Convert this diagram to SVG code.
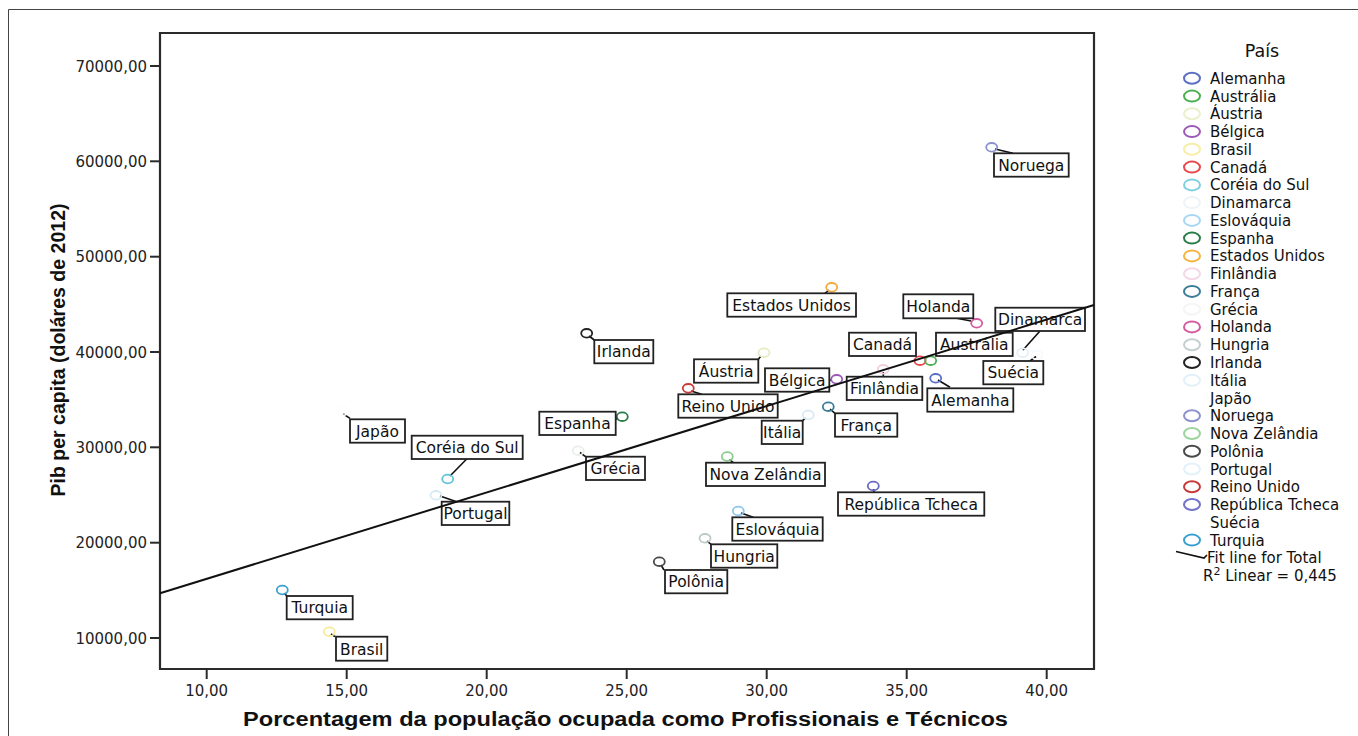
<svg xmlns="http://www.w3.org/2000/svg" width="1358" height="736" viewBox="0 0 1358 736">
<style>
.bg{fill:#fff}
.frame{stroke:#444;stroke-width:1;fill:none}
.axis{stroke:#2b2b2b;stroke-width:2.2;fill:none}
.tick{stroke:#2b2b2b;stroke-width:2}
.tl{font-family:"DejaVu Sans",sans-serif;font-size:15px;fill:#222}
.title{font-family:"Liberation Sans",Arial,sans-serif;font-weight:bold;font-size:19.5px;fill:#111}
.box{fill:#fff;stroke:#222;stroke-width:1.8}
.lbl{font-family:"DejaVu Sans",sans-serif;font-size:15.5px;fill:#111;text-anchor:middle}
.pt{fill:none;stroke-width:1.8}
.lead{stroke:#111;stroke-width:1.6;fill:none}
.fit{stroke:#111;stroke-width:2;fill:none}
.lg{font-family:"DejaVu Sans",sans-serif;font-size:15px;fill:#111}
.lc{fill:none;stroke-width:2}
</style>
<rect class="bg" x="0" y="0" width="1358" height="736"/>
<path class="frame" d="M8.5 736 V9.5 H1358"/>

<g id="axes">
<path class="axis" d="M160 33 H1094 V669 H160 Z"/>
<g class="tick">
<line x1="150" y1="66" x2="160" y2="66"/>
<line x1="150" y1="161.3" x2="160" y2="161.3"/>
<line x1="150" y1="256.7" x2="160" y2="256.7"/>
<line x1="150" y1="352" x2="160" y2="352"/>
<line x1="150" y1="447.3" x2="160" y2="447.3"/>
<line x1="150" y1="542.7" x2="160" y2="542.7"/>
<line x1="150" y1="638" x2="160" y2="638"/>
<line x1="206.7" y1="669" x2="206.7" y2="679"/>
<line x1="346.7" y1="669" x2="346.7" y2="679"/>
<line x1="486.7" y1="669" x2="486.7" y2="679"/>
<line x1="626.7" y1="669" x2="626.7" y2="679"/>
<line x1="766.7" y1="669" x2="766.7" y2="679"/>
<line x1="906.7" y1="669" x2="906.7" y2="679"/>
<line x1="1046.7" y1="669" x2="1046.7" y2="679"/>
</g>
<g class="tl" text-anchor="end">
<text x="147" y="71.5">70000,00</text>
<text x="147" y="166.8">60000,00</text>
<text x="147" y="262.2">50000,00</text>
<text x="147" y="357.5">40000,00</text>
<text x="147" y="452.8">30000,00</text>
<text x="147" y="548.2">20000,00</text>
<text x="147" y="643.5">10000,00</text>
</g>
<g class="tl" text-anchor="middle">
<text x="206.7" y="696">10,00</text>
<text x="346.7" y="696">15,00</text>
<text x="486.7" y="696">20,00</text>
<text x="626.7" y="696">25,00</text>
<text x="766.7" y="696">30,00</text>
<text x="906.7" y="696">35,00</text>
<text x="1046.7" y="696">40,00</text>
</g>
<text class="title" transform="translate(65,350) rotate(-90)" text-anchor="middle" textLength="293" lengthAdjust="spacingAndGlyphs">Pib per capita (doláres de 2012)</text>
<text class="title" x="243" y="726" textLength="765" lengthAdjust="spacingAndGlyphs">Porcentagem da população ocupada como Profissionais e Técnicos</text>
</g>

<g id="connectors">
<line class="lead" x1="995" y1="149" x2="1013" y2="153.3"/>
<line class="lead" x1="971" y1="321" x2="956.7" y2="318.3"/>
<line class="lead" x1="1040" y1="331" x2="1023" y2="350"/>
<line class="lead" x1="1030" y1="361" x2="1036" y2="356.5"/>
<line class="lead" x1="883.3" y1="372" x2="883.3" y2="376.7"/>
<line class="lead" x1="938" y1="380" x2="950" y2="387.3"/>
<line class="lead" x1="830" y1="409" x2="835" y2="413.3"/>
<line class="lead" x1="829.3" y1="380" x2="832" y2="380"/>
<line class="lead" x1="829" y1="290" x2="825" y2="293.3"/>
<line class="lead" x1="589" y1="336" x2="594.3" y2="340"/>
<line class="lead" x1="761" y1="356" x2="758.3" y2="359.3"/>
<line class="lead" x1="691" y1="391" x2="701.7" y2="394.3"/>
<line class="lead" x1="618" y1="418" x2="615.7" y2="419.3"/>
<line class="lead" x1="805.5" y1="418" x2="802.7" y2="420.7"/>
<line class="lead" x1="580" y1="452.5" x2="585.5" y2="456.7"/>
<line class="lead" x1="729.5" y1="459.5" x2="733.3" y2="462.7"/>
<line class="lead" x1="873.5" y1="489" x2="874" y2="492.3"/>
<line class="lead" x1="741" y1="513" x2="753.3" y2="517.3"/>
<line class="lead" x1="707" y1="541" x2="711" y2="544.3"/>
<line class="lead" x1="661" y1="565" x2="664" y2="570"/>
<line class="lead" x1="343.3" y1="414" x2="350" y2="418.3"/>
<line class="lead" x1="466.7" y1="459" x2="450" y2="476"/>
<line class="lead" x1="440" y1="496" x2="456.7" y2="501.7"/>
<line class="lead" x1="284.5" y1="593" x2="286.7" y2="596"/>
<line class="lead" x1="331" y1="634" x2="335" y2="636.7"/>
</g>

<g id="pt-noruega"><ellipse class="pt" cx="991.7" cy="147.3" rx="5.5" ry="4.3" stroke="#8c92cc"/><rect class="box" x="994" y="153.3" width="74.7" height="23.4"/><text class="lbl" x="1031.3" y="170.7">Noruega</text></g>
<g id="pt-holanda"><ellipse class="pt" cx="976.7" cy="323.3" rx="5.5" ry="4.3" stroke="#d45c9e"/><rect class="box" x="903.3" y="294.3" width="70" height="24"/><text class="lbl" x="938.3" y="312.3">Holanda</text></g>
<g id="pt-estados-unidos"><ellipse class="pt" cx="831.7" cy="287.3" rx="5.5" ry="4.3" stroke="#f4a93c"/><rect class="box" x="727.3" y="293.3" width="128.7" height="23.4"/><text class="lbl" x="791.6" y="310.7">Estados Unidos</text></g>
<g id="pt-irlanda"><ellipse class="pt" cx="586.7" cy="333.3" rx="5.5" ry="4.3" stroke="#222"/><rect class="box" x="594.3" y="340" width="59" height="23.3"/><text class="lbl" x="623.8" y="357.3">Irlanda</text></g>
<g id="pt-austria"><ellipse class="pt" cx="764" cy="352.7" rx="5.5" ry="4.3" stroke="#e3edc2"/><rect class="box" x="694" y="359.3" width="64.3" height="23.4"/><text class="lbl" x="726.2" y="376.7">Áustria</text></g>
<g id="pt-reino-unido"><ellipse class="pt" cx="688.3" cy="388.3" rx="5.5" ry="4.3" stroke="#c83a3a"/><rect class="box" x="678.3" y="394.3" width="99.4" height="23.4"/><text class="lbl" x="728" y="411.7">Reino Unido</text></g>
<g id="pt-espanha"><ellipse class="pt" cx="622.3" cy="416.7" rx="5.5" ry="4.3" stroke="#2a7d4a"/><rect class="box" x="539.3" y="411.7" width="76.4" height="23.3"/><text class="lbl" x="577.5" y="429">Espanha</text></g>
<g id="pt-belgica"><ellipse class="pt" cx="836.7" cy="379.3" rx="5.5" ry="4.3" stroke="#9b59b6"/><rect class="box" x="765" y="368.3" width="64.3" height="23.4"/><text class="lbl" x="797.2" y="385.7">Bélgica</text></g>
<g id="pt-italia"><ellipse class="pt" cx="808.3" cy="415" rx="5.5" ry="4.3" stroke="#d6eaf5"/><rect class="box" x="761.7" y="420.7" width="41" height="23.3"/><text class="lbl" x="782.2" y="438">Itália</text></g>
<g id="pt-franca"><ellipse class="pt" cx="828.3" cy="406.7" rx="5.5" ry="4.3" stroke="#3b7d98"/><rect class="box" x="835" y="413.3" width="62.3" height="23.4"/><text class="lbl" x="866.2" y="430.7">França</text></g>
<g id="pt-canada"><ellipse class="pt" cx="920" cy="360.7" rx="5.5" ry="4.3" stroke="#e8474c"/><rect class="box" x="849" y="332.7" width="67" height="23.3"/><text class="lbl" x="882.5" y="350">Canadá</text></g>
<g id="pt-australia"><ellipse class="pt" cx="930.7" cy="360.7" rx="5.5" ry="4.3" stroke="#4caf50"/><rect class="box" x="936" y="332.7" width="76.7" height="23.3"/><text class="lbl" x="974.3" y="350">Austrália</text></g>
<g id="pt-finlandia"><ellipse class="pt" cx="883.3" cy="369.3" rx="5.5" ry="4.3" stroke="#f2cfe0"/><rect class="box" x="846.7" y="376.7" width="75.6" height="23.3"/><text class="lbl" x="884.5" y="394">Finlândia</text></g>
<g id="pt-alemanha"><ellipse class="pt" cx="935.7" cy="378.3" rx="5.5" ry="4.3" stroke="#5b6fc4"/><rect class="box" x="927.3" y="388.3" width="86" height="23.4"/><text class="lbl" x="970.3" y="405.7">Alemanha</text></g>
<g id="pt-dinamarca"><ellipse class="pt" cx="1022.7" cy="352.7" rx="5.5" ry="4.3" stroke="#e6eff5"/><rect class="box" x="995.3" y="307.7" width="89.7" height="23.3"/><text class="lbl" x="1040.2" y="325">Dinamarca</text></g>
<g id="pt-suecia"><ellipse class="pt" cx="1037" cy="355" rx="5.5" ry="4.3" stroke="#f7f9fb"/><rect class="box" x="983.3" y="361" width="60" height="23.3"/><text class="lbl" x="1013.3" y="378.3">Suécia</text></g>
<g id="pt-grecia"><ellipse class="pt" cx="578.3" cy="450.7" rx="5.5" ry="4.3" stroke="#e8efe8"/><rect class="box" x="586" y="456.7" width="59" height="23.3"/><text class="lbl" x="615.5" y="474">Grécia</text></g>
<g id="pt-nova-zelandia"><ellipse class="pt" cx="727.3" cy="456.5" rx="5.5" ry="4.3" stroke="#8ccb8c"/><rect class="box" x="706" y="462.7" width="119" height="23.3"/><text class="lbl" x="765.5" y="480">Nova Zelândia</text></g>
<g id="pt-republica-tcheca"><ellipse class="pt" cx="873.3" cy="486" rx="5.5" ry="4.3" stroke="#6a6ac4"/><rect class="box" x="838" y="492.3" width="146.3" height="23.4"/><text class="lbl" x="911.2" y="509.7">República Tcheca</text></g>
<g id="pt-eslovaquia"><ellipse class="pt" cx="738.3" cy="511" rx="5.5" ry="4.3" stroke="#8cc7ee"/><rect class="box" x="732.3" y="517.3" width="90.4" height="23.4"/><text class="lbl" x="777.5" y="534.7">Eslováquia</text></g>
<g id="pt-hungria"><ellipse class="pt" cx="705" cy="538.3" rx="5.5" ry="4.3" stroke="#bdc8c8"/><rect class="box" x="711" y="544.3" width="66.3" height="23.4"/><text class="lbl" x="744.2" y="561.7">Hungria</text></g>
<g id="pt-polonia"><ellipse class="pt" cx="659.3" cy="561.7" rx="5.5" ry="4.3" stroke="#4a4a4a"/><rect class="box" x="665" y="570" width="62.3" height="23.3"/><text class="lbl" x="696.2" y="587.3">Polônia</text></g>
<g id="pt-japao"><ellipse class="pt" cx="343" cy="411" rx="5.5" ry="4.3" stroke="#fdfdfd"/><rect class="box" x="350" y="419.3" width="55" height="23.4"/><text class="lbl" x="377.5" y="436.7">Japão</text></g>
<g id="pt-coreia-do-sul"><ellipse class="pt" cx="447.7" cy="479" rx="5.5" ry="4.3" stroke="#62c3d8"/><rect class="box" x="411.7" y="435.7" width="111" height="23.3"/><text class="lbl" x="467.2" y="453">Coréia do Sul</text></g>
<g id="pt-portugal"><ellipse class="pt" cx="436" cy="495.3" rx="5.5" ry="4.3" stroke="#d5ebf6"/><rect class="box" x="441.7" y="501.7" width="67.6" height="23.3"/><text class="lbl" x="475.5" y="519">Portugal</text></g>
<g id="pt-turquia"><ellipse class="pt" cx="282.3" cy="590" rx="5.5" ry="4.3" stroke="#3aa0d0"/><rect class="box" x="286.7" y="596" width="66" height="23.3"/><text class="lbl" x="319.7" y="613.3">Turquia</text></g>
<g id="pt-brasil"><ellipse class="pt" cx="329.3" cy="631.7" rx="5.5" ry="4.3" stroke="#f5eb9a"/><rect class="box" x="336" y="636.7" width="51.3" height="24"/><text class="lbl" x="361.7" y="654.7">Brasil</text></g>

<g id="fit-line"><line class="fit" x1="160" y1="593.3" x2="1094" y2="305"/></g>

<g id="legend">
<text class="lg" x="1262" y="56.5" text-anchor="middle" style="font-size:17.5px">País</text>
<g class="lc">
<ellipse cx="1192" cy="78.3" rx="8" ry="5.5" stroke="#5b6fc4"/>
<ellipse cx="1192" cy="96.1" rx="8" ry="5.5" stroke="#4caf50"/>
<ellipse cx="1192" cy="113.8" rx="8" ry="5.5" stroke="#e8f0cc"/>
<ellipse cx="1192" cy="131.6" rx="8" ry="5.5" stroke="#9b59b6"/>
<ellipse cx="1192" cy="149.3" rx="8" ry="5.5" stroke="#f8eea6"/>
<ellipse cx="1192" cy="167.1" rx="8" ry="5.5" stroke="#e8474c"/>
<ellipse cx="1192" cy="184.9" rx="8" ry="5.5" stroke="#7fd0e0"/>
<ellipse cx="1192" cy="202.6" rx="8" ry="5.5" stroke="#edf3f7"/>
<ellipse cx="1192" cy="220.4" rx="8" ry="5.5" stroke="#a8d6f2"/>
<ellipse cx="1192" cy="238.1" rx="8" ry="5.5" stroke="#2a7d4a"/>
<ellipse cx="1192" cy="255.9" rx="8" ry="5.5" stroke="#f4b442"/>
<ellipse cx="1192" cy="273.7" rx="8" ry="5.5" stroke="#f5d6e6"/>
<ellipse cx="1192" cy="291.4" rx="8" ry="5.5" stroke="#3b7d98"/>
<ellipse cx="1192" cy="309.2" rx="8" ry="5.5" stroke="#f3f6f3"/>
<ellipse cx="1192" cy="326.9" rx="8" ry="5.5" stroke="#d45c9e"/>
<ellipse cx="1192" cy="344.7" rx="8" ry="5.5" stroke="#c5cfcf"/>
<ellipse cx="1192" cy="362.5" rx="8" ry="5.5" stroke="#222"/>
<ellipse cx="1192" cy="380.2" rx="8" ry="5.5" stroke="#e2f1f8"/>
<ellipse cx="1192" cy="398" rx="8" ry="5.5" stroke="#fefefe"/>
<ellipse cx="1192" cy="415.7" rx="8" ry="5.5" stroke="#8c92cc"/>
<ellipse cx="1192" cy="433.5" rx="8" ry="5.5" stroke="#9ed49e"/>
<ellipse cx="1192" cy="451.3" rx="8" ry="5.5" stroke="#4a4a4a"/>
<ellipse cx="1192" cy="469" rx="8" ry="5.5" stroke="#e2f1f9"/>
<ellipse cx="1192" cy="486.8" rx="8" ry="5.5" stroke="#c83a3a"/>
<ellipse cx="1192" cy="504.5" rx="8" ry="5.5" stroke="#7272c8"/>
<ellipse cx="1192" cy="522.3" rx="8" ry="5.5" stroke="#fefefe"/>
<ellipse cx="1192" cy="540.1" rx="8" ry="5.5" stroke="#3aa0d0"/>
</g>
<path d="M1176 551.5 L1204 558 L1207 555" stroke="#111" stroke-width="1.6" fill="none"/>
<g class="lg">
<text x="1210" y="83.8">Alemanha</text>
<text x="1210" y="101.6">Austrália</text>
<text x="1210" y="119.3">Áustria</text>
<text x="1210" y="137.1">Bélgica</text>
<text x="1210" y="154.8">Brasil</text>
<text x="1210" y="172.6">Canadá</text>
<text x="1210" y="190.4">Coréia do Sul</text>
<text x="1210" y="208.1">Dinamarca</text>
<text x="1210" y="225.9">Eslováquia</text>
<text x="1210" y="243.6">Espanha</text>
<text x="1210" y="261.4">Estados Unidos</text>
<text x="1210" y="279.2">Finlândia</text>
<text x="1210" y="296.9">França</text>
<text x="1210" y="314.7">Grécia</text>
<text x="1210" y="332.4">Holanda</text>
<text x="1210" y="350.2">Hungria</text>
<text x="1210" y="368">Irlanda</text>
<text x="1210" y="385.7">Itália</text>
<text x="1210" y="403.5">Japão</text>
<text x="1210" y="421.2">Noruega</text>
<text x="1210" y="439">Nova Zelândia</text>
<text x="1210" y="456.8">Polônia</text>
<text x="1210" y="474.5">Portugal</text>
<text x="1210" y="492.3">Reino Unido</text>
<text x="1210" y="510">República Tcheca</text>
<text x="1210" y="527.8">Suécia</text>
<text x="1210" y="545.6">Turquia</text>
<text x="1207" y="563">Fit line for Total</text>
<text x="1203" y="581">R<tspan dy="-6" font-size="11">2</tspan><tspan dy="6"> Linear = 0,445</tspan></text>
</g>
</g>
</svg>
